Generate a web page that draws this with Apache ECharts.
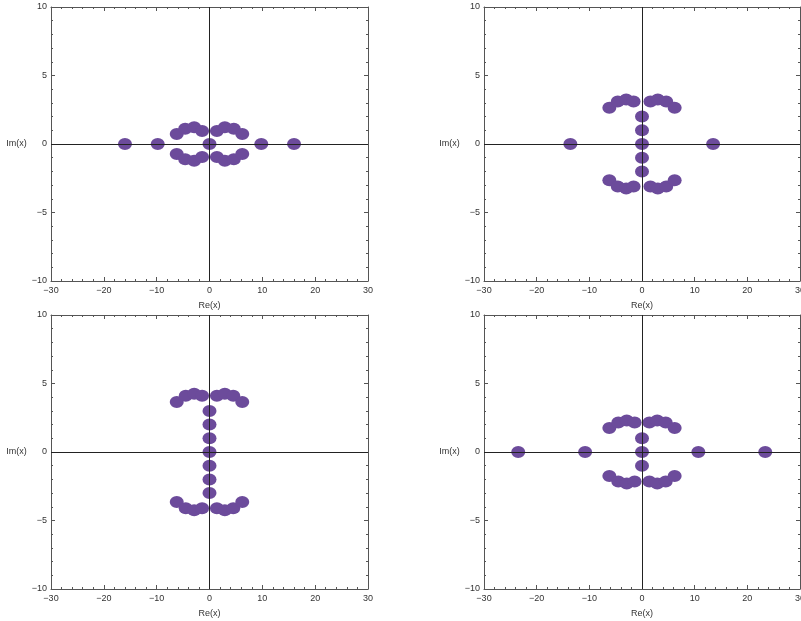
<!DOCTYPE html>
<html>
<head>
<meta charset="utf-8">
<script src="https://cdn.jsdelivr.net/npm/echarts@6/dist/echarts.min.js"></script>
<style>
html,body{margin:0;padding:0;background:#fff;}
#c{width:801px;height:621px;}
</style>
</head>
<body>
<div id="c"></div>
<script>
// Panel data (real part, imaginary part)
const re1 = [-16, -9.8, 0, 9.8, 16,
  -6.2, -4.6, -2.9, -1.4, 1.4, 2.9, 4.6, 6.2,
  -6.2, -4.6, -2.9, -1.4, 1.4, 2.9, 4.6, 6.2];
const im1 = [0, 0, 0, 0, 0,
  0.73, 1.12, 1.22, 0.95, 0.95, 1.22, 1.12, 0.73,
  -0.73, -1.12, -1.22, -0.95, -0.95, -1.22, -1.12, -0.73];

const re2 = [-13.6, 13.5, 0, 0, 0, 0, 0,
  -6.2, -4.6, -3.0, -1.6, 1.6, 3.0, 4.6, 6.2,
  -6.2, -4.6, -3.0, -1.6, 1.6, 3.0, 4.6, 6.2];
const im2 = [0, 0, 0, 1, 2, -1, -2,
  2.65, 3.1, 3.25, 3.1, 3.1, 3.25, 3.1, 2.65,
  -2.65, -3.1, -3.25, -3.1, -3.1, -3.25, -3.1, -2.65];

const re3 = [0, 0, 0, 0, 0, 0, 0,
  -6.2, -4.5, -2.9, -1.4, 1.4, 2.9, 4.5, 6.2,
  -6.2, -4.5, -2.9, -1.4, 1.4, 2.9, 4.5, 6.2];
const im3 = [0, 1, 2, 3, -1, -2, -3,
  3.65, 4.1, 4.25, 4.1, 4.1, 4.25, 4.1, 3.65,
  -3.65, -4.1, -4.25, -4.1, -4.1, -4.25, -4.1, -3.65];

const re4 = [-23.5, -10.8, 10.7, 23.4, 0, 0, 0,
  -6.2, -4.5, -2.9, -1.4, 1.4, 2.9, 4.5, 6.2,
  -6.2, -4.5, -2.9, -1.4, 1.4, 2.9, 4.5, 6.2];
const im4 = [0, 0, 0, 0, 0, 1, -1,
  1.75, 2.15, 2.3, 2.15, 2.15, 2.3, 2.15, 1.75,
  -1.75, -2.15, -2.3, -2.15, -2.15, -2.3, -2.15, -1.75];

const panels = [[re1, im1], [re2, im2], [re3, im3], [re4, im4]];

const xTicks = {min: -30, max: 30, interval: 10};
const yTicks = {min: -10, max: 10, interval: 5};
const xName = 'Re(x)';
const yName = 'Im(x)';

const grids = [
  {left: 51, top: 7, width: 317, height: 274},
  {left: 484, top: 7, width: 316, height: 274},
  {left: 51, top: 315, width: 317, height: 274},
  {left: 484, top: 315, width: 316, height: 274}
].map(g => Object.assign({containLabel: false, outerBoundsMode: 'none'}, g));

const fmt = v => v < 0 ? '\u2212' + Math.abs(v) : String(v);
const frameLine = {show: true, onZero: false, lineStyle: {color: '#555', width: 1}};
const lblStyle = {fontFamily: 'Liberation Sans', fontSize: 9, color: '#333'};

const xAxes = [], yAxes = [], series = [];
grids.forEach((g, i) => {
  ['bottom', 'top'].forEach(pos => {
    xAxes.push({
      type: 'value', gridIndex: i, position: pos,
      min: xTicks.min, max: xTicks.max, interval: xTicks.interval,
      axisLine: frameLine,
      axisTick: {show: true, inside: true, length: 4, lineStyle: {color: '#555'}},
      minorTick: {show: true, splitNumber: 5, length: 2, lineStyle: {color: '#555'}},
      splitLine: {show: false},
      axisLabel: pos === 'bottom' ? Object.assign({show: true, margin: 5, formatter: fmt, hideOverlap: false, showMinLabel: true, showMaxLabel: true}, lblStyle) : {show: false},
      name: pos === 'bottom' ? xName : '',
      nameLocation: 'middle', nameGap: 20,
      nameTextStyle: lblStyle
    });
  });
  ['left', 'right'].forEach(pos => {
    yAxes.push({
      type: 'value', gridIndex: i, position: pos,
      min: yTicks.min, max: yTicks.max, interval: yTicks.interval,
      axisLine: frameLine,
      axisTick: {show: true, inside: true, length: 4, lineStyle: {color: '#555'}},
      minorTick: {show: true, splitNumber: 5, length: 2, lineStyle: {color: '#555'}},
      splitLine: {show: false},
      axisLabel: pos === 'left' ? Object.assign({show: true, margin: 4, formatter: fmt}, lblStyle) : {show: false},
      name: pos === 'left' ? yName : '',
      nameLocation: 'middle', nameGap: 23, nameRotate: 0,
      nameTextStyle: lblStyle
    });
  });
  const [re, im] = panels[i];
  series.push({
    type: 'scatter', xAxisIndex: 2 * i, yAxisIndex: 2 * i,
    data: re.map((r, k) => [r, im[k]]),
    symbol: 'circle', symbolSize: [14, 12],
    itemStyle: {color: '#6c4b9b', opacity: 1},
    markLine: {
      silent: true, symbol: 'none', animation: false,
      label: {show: false},
      lineStyle: {color: '#222', width: 1, type: 'solid'},
      data: [{xAxis: 0}, {yAxis: 0}]
    }
  });
});

const chart = echarts.init(document.getElementById('c'), null, {renderer: 'canvas'});
chart.setOption({
  animation: false,
  backgroundColor: '#fff',
  grid: grids,
  xAxis: xAxes,
  yAxis: yAxes,
  series: series
});
</script>
</body>
</html>
